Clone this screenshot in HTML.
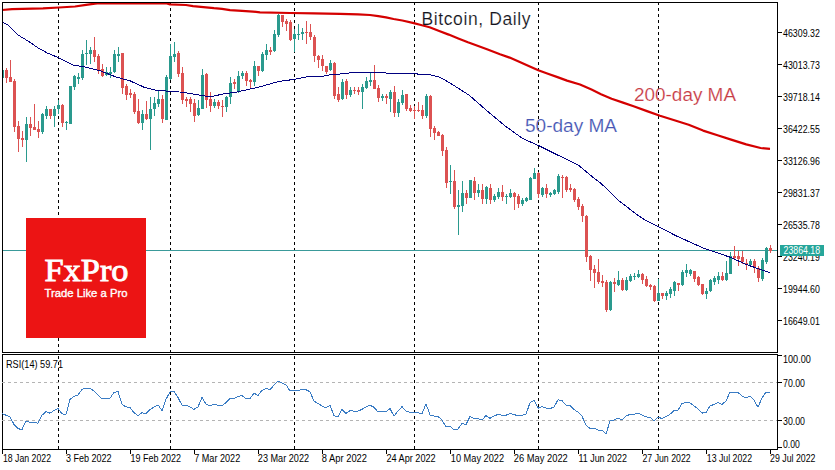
<!DOCTYPE html>
<html><head><meta charset="utf-8"><title>Bitcoin, Daily</title>
<style>
html,body{margin:0;padding:0;background:#fff;}
body{width:835px;height:470px;overflow:hidden;}
svg{display:block;}
text{font-family:"Liberation Sans",sans-serif;}
</style></head><body>
<svg width="835" height="470" viewBox="0 0 835 470">
<rect width="835" height="470" fill="#fff"/>
<g stroke="#000" stroke-width="1" stroke-dasharray="3,3" shape-rendering="crispEdges">
<line x1="58.5" y1="2" x2="58.5" y2="352"/>
<line x1="58.5" y1="356" x2="58.5" y2="449"/>
<line x1="170.5" y1="2" x2="170.5" y2="352"/>
<line x1="170.5" y1="356" x2="170.5" y2="449"/>
<line x1="294.5" y1="2" x2="294.5" y2="352"/>
<line x1="294.5" y1="356" x2="294.5" y2="449"/>
<line x1="414.5" y1="2" x2="414.5" y2="352"/>
<line x1="414.5" y1="356" x2="414.5" y2="449"/>
<line x1="538.5" y1="2" x2="538.5" y2="352"/>
<line x1="538.5" y1="356" x2="538.5" y2="449"/>
<line x1="658.5" y1="2" x2="658.5" y2="352"/>
<line x1="658.5" y1="356" x2="658.5" y2="449"/>
</g>
<rect x="3" y="250" width="774" height="1" fill="#3a9a9a"/>
<g shape-rendering="crispEdges">
<rect x="2" y="68" width="1" height="12" fill="#2a9a8e"/>
<rect x="3" y="70" width="1" height="8" fill="#2a9a8e"/>
<rect x="6" y="68" width="1" height="15" fill="#dc5252"/>
<rect x="5" y="70" width="3" height="8" fill="#dc5252"/>
<rect x="10" y="60" width="1" height="22" fill="#dc5252"/>
<rect x="9" y="77" width="3" height="5" fill="#dc5252"/>
<rect x="14" y="79" width="1" height="53" fill="#dc5252"/>
<rect x="13" y="81" width="3" height="46" fill="#dc5252"/>
<rect x="18" y="121" width="1" height="31" fill="#dc5252"/>
<rect x="17" y="126" width="3" height="13" fill="#dc5252"/>
<rect x="22" y="131" width="1" height="16" fill="#dc5252"/>
<rect x="21" y="138" width="3" height="2" fill="#dc5252"/>
<rect x="26" y="117" width="1" height="45" fill="#2a9a8e"/>
<rect x="25" y="124" width="3" height="16" fill="#2a9a8e"/>
<rect x="30" y="117" width="1" height="19" fill="#dc5252"/>
<rect x="29" y="124" width="3" height="4" fill="#dc5252"/>
<rect x="34" y="104" width="1" height="26" fill="#dc5252"/>
<rect x="33" y="127" width="3" height="3" fill="#dc5252"/>
<rect x="38" y="121" width="1" height="17" fill="#dc5252"/>
<rect x="37" y="129" width="3" height="3" fill="#dc5252"/>
<rect x="42" y="113" width="1" height="21" fill="#2a9a8e"/>
<rect x="41" y="114" width="3" height="18" fill="#2a9a8e"/>
<rect x="46" y="106" width="1" height="13" fill="#2a9a8e"/>
<rect x="45" y="109" width="3" height="7" fill="#2a9a8e"/>
<rect x="50" y="109" width="1" height="10" fill="#dc5252"/>
<rect x="49" y="109" width="3" height="7" fill="#dc5252"/>
<rect x="54" y="106" width="1" height="21" fill="#2a9a8e"/>
<rect x="53" y="109" width="3" height="7" fill="#2a9a8e"/>
<rect x="58" y="100" width="1" height="14" fill="#2a9a8e"/>
<rect x="57" y="105" width="3" height="4" fill="#2a9a8e"/>
<rect x="62" y="104" width="1" height="23" fill="#dc5252"/>
<rect x="61" y="105" width="3" height="18" fill="#dc5252"/>
<rect x="66" y="121" width="1" height="9" fill="#2a9a8e"/>
<rect x="65" y="122" width="3" height="1" fill="#2a9a8e"/>
<rect x="70" y="86" width="1" height="38" fill="#2a9a8e"/>
<rect x="69" y="86" width="3" height="38" fill="#2a9a8e"/>
<rect x="74" y="75" width="1" height="15" fill="#2a9a8e"/>
<rect x="73" y="76" width="3" height="11" fill="#2a9a8e"/>
<rect x="78" y="73" width="1" height="11" fill="#2a9a8e"/>
<rect x="77" y="77" width="3" height="2" fill="#2a9a8e"/>
<rect x="82" y="50" width="1" height="30" fill="#2a9a8e"/>
<rect x="81" y="54" width="3" height="24" fill="#2a9a8e"/>
<rect x="86" y="40" width="1" height="25" fill="#2a9a8e"/>
<rect x="85" y="53" width="3" height="1" fill="#2a9a8e"/>
<rect x="90" y="47" width="1" height="17" fill="#2a9a8e"/>
<rect x="89" y="50" width="3" height="4" fill="#2a9a8e"/>
<rect x="94" y="37" width="1" height="25" fill="#dc5252"/>
<rect x="93" y="50" width="3" height="7" fill="#dc5252"/>
<rect x="98" y="54" width="1" height="20" fill="#dc5252"/>
<rect x="97" y="56" width="3" height="14" fill="#dc5252"/>
<rect x="102" y="64" width="1" height="13" fill="#dc5252"/>
<rect x="101" y="69" width="3" height="7" fill="#dc5252"/>
<rect x="106" y="67" width="1" height="9" fill="#2a9a8e"/>
<rect x="105" y="72" width="3" height="3" fill="#2a9a8e"/>
<rect x="110" y="67" width="1" height="11" fill="#2a9a8e"/>
<rect x="109" y="72" width="3" height="2" fill="#2a9a8e"/>
<rect x="114" y="50" width="1" height="23" fill="#2a9a8e"/>
<rect x="113" y="54" width="3" height="18" fill="#2a9a8e"/>
<rect x="118" y="47" width="1" height="15" fill="#2a9a8e"/>
<rect x="117" y="54" width="3" height="2" fill="#2a9a8e"/>
<rect x="122" y="53" width="1" height="41" fill="#dc5252"/>
<rect x="121" y="53" width="3" height="35" fill="#dc5252"/>
<rect x="126" y="84" width="1" height="16" fill="#dc5252"/>
<rect x="125" y="86" width="3" height="9" fill="#dc5252"/>
<rect x="130" y="89" width="1" height="9" fill="#dc5252"/>
<rect x="129" y="93" width="3" height="2" fill="#dc5252"/>
<rect x="134" y="92" width="1" height="22" fill="#dc5252"/>
<rect x="133" y="94" width="3" height="18" fill="#dc5252"/>
<rect x="138" y="99" width="1" height="25" fill="#dc5252"/>
<rect x="137" y="111" width="3" height="12" fill="#dc5252"/>
<rect x="142" y="110" width="1" height="20" fill="#2a9a8e"/>
<rect x="141" y="114" width="3" height="9" fill="#2a9a8e"/>
<rect x="146" y="101" width="1" height="19" fill="#dc5252"/>
<rect x="145" y="114" width="3" height="5" fill="#dc5252"/>
<rect x="150" y="97" width="1" height="53" fill="#2a9a8e"/>
<rect x="149" y="109" width="3" height="10" fill="#2a9a8e"/>
<rect x="154" y="97" width="1" height="19" fill="#2a9a8e"/>
<rect x="153" y="103" width="3" height="6" fill="#2a9a8e"/>
<rect x="158" y="91" width="1" height="16" fill="#2a9a8e"/>
<rect x="157" y="99" width="3" height="5" fill="#2a9a8e"/>
<rect x="162" y="95" width="1" height="28" fill="#dc5252"/>
<rect x="161" y="99" width="3" height="20" fill="#dc5252"/>
<rect x="166" y="75" width="1" height="45" fill="#2a9a8e"/>
<rect x="165" y="77" width="3" height="43" fill="#2a9a8e"/>
<rect x="170" y="44" width="1" height="36" fill="#2a9a8e"/>
<rect x="169" y="56" width="3" height="23" fill="#2a9a8e"/>
<rect x="174" y="42" width="1" height="20" fill="#2a9a8e"/>
<rect x="173" y="54" width="3" height="3" fill="#2a9a8e"/>
<rect x="178" y="51" width="1" height="26" fill="#dc5252"/>
<rect x="177" y="53" width="3" height="21" fill="#dc5252"/>
<rect x="182" y="67" width="1" height="37" fill="#dc5252"/>
<rect x="181" y="73" width="3" height="27" fill="#dc5252"/>
<rect x="186" y="97" width="1" height="10" fill="#dc5252"/>
<rect x="185" y="99" width="3" height="2" fill="#dc5252"/>
<rect x="190" y="97" width="1" height="15" fill="#dc5252"/>
<rect x="189" y="99" width="3" height="5" fill="#dc5252"/>
<rect x="194" y="99" width="1" height="23" fill="#dc5252"/>
<rect x="193" y="103" width="3" height="13" fill="#dc5252"/>
<rect x="198" y="100" width="1" height="16" fill="#2a9a8e"/>
<rect x="197" y="108" width="3" height="7" fill="#2a9a8e"/>
<rect x="202" y="69" width="1" height="40" fill="#2a9a8e"/>
<rect x="201" y="75" width="3" height="34" fill="#2a9a8e"/>
<rect x="206" y="73" width="1" height="35" fill="#dc5252"/>
<rect x="205" y="74" width="3" height="26" fill="#dc5252"/>
<rect x="210" y="92" width="1" height="20" fill="#dc5252"/>
<rect x="209" y="99" width="3" height="7" fill="#dc5252"/>
<rect x="214" y="99" width="1" height="9" fill="#2a9a8e"/>
<rect x="213" y="102" width="3" height="4" fill="#2a9a8e"/>
<rect x="218" y="100" width="1" height="9" fill="#dc5252"/>
<rect x="217" y="102" width="3" height="4" fill="#dc5252"/>
<rect x="222" y="100" width="1" height="17" fill="#dc5252"/>
<rect x="221" y="106" width="3" height="1" fill="#dc5252"/>
<rect x="226" y="96" width="1" height="16" fill="#2a9a8e"/>
<rect x="225" y="97" width="3" height="10" fill="#2a9a8e"/>
<rect x="230" y="77" width="1" height="27" fill="#2a9a8e"/>
<rect x="229" y="83" width="3" height="14" fill="#2a9a8e"/>
<rect x="234" y="79" width="1" height="10" fill="#dc5252"/>
<rect x="233" y="82" width="3" height="2" fill="#dc5252"/>
<rect x="238" y="71" width="1" height="22" fill="#2a9a8e"/>
<rect x="237" y="76" width="3" height="15" fill="#2a9a8e"/>
<rect x="242" y="71" width="1" height="8" fill="#2a9a8e"/>
<rect x="241" y="73" width="3" height="3" fill="#2a9a8e"/>
<rect x="246" y="71" width="1" height="15" fill="#dc5252"/>
<rect x="245" y="73" width="3" height="8" fill="#dc5252"/>
<rect x="250" y="79" width="1" height="10" fill="#dc5252"/>
<rect x="249" y="80" width="3" height="2" fill="#dc5252"/>
<rect x="254" y="61" width="1" height="25" fill="#2a9a8e"/>
<rect x="253" y="66" width="3" height="16" fill="#2a9a8e"/>
<rect x="258" y="66" width="1" height="10" fill="#dc5252"/>
<rect x="257" y="66" width="3" height="5" fill="#dc5252"/>
<rect x="262" y="52" width="1" height="20" fill="#2a9a8e"/>
<rect x="261" y="54" width="3" height="17" fill="#2a9a8e"/>
<rect x="266" y="44" width="1" height="16" fill="#2a9a8e"/>
<rect x="265" y="50" width="3" height="5" fill="#2a9a8e"/>
<rect x="270" y="47" width="1" height="8" fill="#dc5252"/>
<rect x="269" y="50" width="3" height="2" fill="#dc5252"/>
<rect x="274" y="30" width="1" height="22" fill="#2a9a8e"/>
<rect x="273" y="34" width="3" height="17" fill="#2a9a8e"/>
<rect x="278" y="14" width="1" height="23" fill="#2a9a8e"/>
<rect x="277" y="15" width="3" height="20" fill="#2a9a8e"/>
<rect x="282" y="15" width="1" height="12" fill="#dc5252"/>
<rect x="281" y="15" width="3" height="7" fill="#dc5252"/>
<rect x="286" y="19" width="1" height="12" fill="#dc5252"/>
<rect x="285" y="21" width="3" height="3" fill="#dc5252"/>
<rect x="290" y="20" width="1" height="21" fill="#dc5252"/>
<rect x="289" y="22" width="3" height="18" fill="#dc5252"/>
<rect x="294" y="29" width="1" height="23" fill="#2a9a8e"/>
<rect x="293" y="34" width="3" height="5" fill="#2a9a8e"/>
<rect x="298" y="24" width="1" height="16" fill="#2a9a8e"/>
<rect x="297" y="34" width="3" height="1" fill="#2a9a8e"/>
<rect x="302" y="28" width="1" height="12" fill="#2a9a8e"/>
<rect x="301" y="32" width="3" height="2" fill="#2a9a8e"/>
<rect x="306" y="21" width="1" height="23" fill="#dc5252"/>
<rect x="305" y="32" width="3" height="1" fill="#dc5252"/>
<rect x="310" y="24" width="1" height="16" fill="#dc5252"/>
<rect x="309" y="32" width="3" height="5" fill="#dc5252"/>
<rect x="314" y="35" width="1" height="27" fill="#dc5252"/>
<rect x="313" y="37" width="3" height="19" fill="#dc5252"/>
<rect x="318" y="55" width="1" height="13" fill="#dc5252"/>
<rect x="317" y="56" width="3" height="4" fill="#dc5252"/>
<rect x="322" y="55" width="1" height="16" fill="#dc5252"/>
<rect x="321" y="59" width="3" height="7" fill="#dc5252"/>
<rect x="326" y="66" width="1" height="8" fill="#dc5252"/>
<rect x="325" y="66" width="3" height="6" fill="#dc5252"/>
<rect x="330" y="60" width="1" height="11" fill="#2a9a8e"/>
<rect x="329" y="63" width="3" height="7" fill="#2a9a8e"/>
<rect x="334" y="62" width="1" height="37" fill="#dc5252"/>
<rect x="333" y="63" width="3" height="33" fill="#dc5252"/>
<rect x="338" y="87" width="1" height="15" fill="#dc5252"/>
<rect x="337" y="94" width="3" height="6" fill="#dc5252"/>
<rect x="342" y="79" width="1" height="21" fill="#2a9a8e"/>
<rect x="341" y="82" width="3" height="17" fill="#2a9a8e"/>
<rect x="346" y="79" width="1" height="20" fill="#dc5252"/>
<rect x="345" y="81" width="3" height="14" fill="#dc5252"/>
<rect x="350" y="87" width="1" height="10" fill="#2a9a8e"/>
<rect x="349" y="90" width="3" height="5" fill="#2a9a8e"/>
<rect x="354" y="87" width="1" height="7" fill="#dc5252"/>
<rect x="353" y="90" width="3" height="1" fill="#dc5252"/>
<rect x="358" y="87" width="1" height="8" fill="#dc5252"/>
<rect x="357" y="90" width="3" height="2" fill="#dc5252"/>
<rect x="362" y="84" width="1" height="25" fill="#2a9a8e"/>
<rect x="361" y="87" width="3" height="5" fill="#2a9a8e"/>
<rect x="366" y="77" width="1" height="12" fill="#2a9a8e"/>
<rect x="365" y="81" width="3" height="7" fill="#2a9a8e"/>
<rect x="370" y="73" width="1" height="13" fill="#2a9a8e"/>
<rect x="369" y="80" width="3" height="2" fill="#2a9a8e"/>
<rect x="374" y="65" width="1" height="24" fill="#dc5252"/>
<rect x="373" y="80" width="3" height="9" fill="#dc5252"/>
<rect x="378" y="85" width="1" height="17" fill="#dc5252"/>
<rect x="377" y="88" width="3" height="10" fill="#dc5252"/>
<rect x="382" y="94" width="1" height="7" fill="#2a9a8e"/>
<rect x="381" y="96" width="3" height="2" fill="#2a9a8e"/>
<rect x="386" y="94" width="1" height="10" fill="#dc5252"/>
<rect x="385" y="96" width="3" height="2" fill="#dc5252"/>
<rect x="390" y="90" width="1" height="22" fill="#2a9a8e"/>
<rect x="389" y="92" width="3" height="7" fill="#2a9a8e"/>
<rect x="394" y="86" width="1" height="31" fill="#dc5252"/>
<rect x="393" y="92" width="3" height="21" fill="#dc5252"/>
<rect x="398" y="99" width="1" height="18" fill="#2a9a8e"/>
<rect x="397" y="102" width="3" height="11" fill="#2a9a8e"/>
<rect x="402" y="90" width="1" height="15" fill="#2a9a8e"/>
<rect x="401" y="95" width="3" height="8" fill="#2a9a8e"/>
<rect x="406" y="94" width="1" height="17" fill="#dc5252"/>
<rect x="405" y="94" width="3" height="15" fill="#dc5252"/>
<rect x="410" y="105" width="1" height="7" fill="#dc5252"/>
<rect x="409" y="108" width="3" height="3" fill="#dc5252"/>
<rect x="414" y="106" width="1" height="13" fill="#dc5252"/>
<rect x="413" y="110" width="3" height="1" fill="#dc5252"/>
<rect x="418" y="102" width="1" height="10" fill="#dc5252"/>
<rect x="417" y="110" width="3" height="1" fill="#dc5252"/>
<rect x="422" y="105" width="1" height="14" fill="#dc5252"/>
<rect x="421" y="110" width="3" height="6" fill="#dc5252"/>
<rect x="426" y="94" width="1" height="24" fill="#2a9a8e"/>
<rect x="425" y="96" width="3" height="20" fill="#2a9a8e"/>
<rect x="430" y="95" width="1" height="42" fill="#dc5252"/>
<rect x="429" y="96" width="3" height="33" fill="#dc5252"/>
<rect x="434" y="126" width="1" height="14" fill="#dc5252"/>
<rect x="433" y="128" width="3" height="5" fill="#dc5252"/>
<rect x="438" y="131" width="1" height="5" fill="#dc5252"/>
<rect x="437" y="132" width="3" height="4" fill="#dc5252"/>
<rect x="442" y="134" width="1" height="22" fill="#dc5252"/>
<rect x="441" y="135" width="3" height="16" fill="#dc5252"/>
<rect x="446" y="147" width="1" height="41" fill="#dc5252"/>
<rect x="445" y="150" width="3" height="33" fill="#dc5252"/>
<rect x="450" y="165" width="1" height="29" fill="#2a9a8e"/>
<rect x="449" y="181" width="3" height="1" fill="#2a9a8e"/>
<rect x="454" y="170" width="1" height="39" fill="#dc5252"/>
<rect x="453" y="181" width="3" height="26" fill="#dc5252"/>
<rect x="458" y="190" width="1" height="45" fill="#2a9a8e"/>
<rect x="457" y="205" width="3" height="2" fill="#2a9a8e"/>
<rect x="462" y="181" width="1" height="31" fill="#2a9a8e"/>
<rect x="461" y="193" width="3" height="13" fill="#2a9a8e"/>
<rect x="466" y="190" width="1" height="14" fill="#dc5252"/>
<rect x="465" y="193" width="3" height="5" fill="#dc5252"/>
<rect x="470" y="180" width="1" height="18" fill="#2a9a8e"/>
<rect x="469" y="180" width="3" height="18" fill="#2a9a8e"/>
<rect x="474" y="177" width="1" height="23" fill="#dc5252"/>
<rect x="473" y="181" width="3" height="12" fill="#dc5252"/>
<rect x="478" y="184" width="1" height="13" fill="#2a9a8e"/>
<rect x="477" y="190" width="3" height="3" fill="#2a9a8e"/>
<rect x="482" y="184" width="1" height="20" fill="#dc5252"/>
<rect x="481" y="190" width="3" height="9" fill="#dc5252"/>
<rect x="486" y="186" width="1" height="18" fill="#2a9a8e"/>
<rect x="485" y="187" width="3" height="12" fill="#2a9a8e"/>
<rect x="490" y="184" width="1" height="20" fill="#dc5252"/>
<rect x="489" y="188" width="3" height="12" fill="#dc5252"/>
<rect x="494" y="194" width="1" height="8" fill="#2a9a8e"/>
<rect x="493" y="196" width="3" height="4" fill="#2a9a8e"/>
<rect x="498" y="188" width="1" height="11" fill="#2a9a8e"/>
<rect x="497" y="192" width="3" height="5" fill="#2a9a8e"/>
<rect x="502" y="185" width="1" height="16" fill="#dc5252"/>
<rect x="501" y="192" width="3" height="5" fill="#dc5252"/>
<rect x="506" y="194" width="1" height="10" fill="#2a9a8e"/>
<rect x="505" y="196" width="3" height="1" fill="#2a9a8e"/>
<rect x="510" y="189" width="1" height="9" fill="#2a9a8e"/>
<rect x="509" y="193" width="3" height="4" fill="#2a9a8e"/>
<rect x="514" y="192" width="1" height="18" fill="#dc5252"/>
<rect x="513" y="193" width="3" height="4" fill="#dc5252"/>
<rect x="518" y="194" width="1" height="14" fill="#dc5252"/>
<rect x="517" y="196" width="3" height="8" fill="#dc5252"/>
<rect x="522" y="198" width="1" height="8" fill="#2a9a8e"/>
<rect x="521" y="200" width="3" height="4" fill="#2a9a8e"/>
<rect x="526" y="197" width="1" height="5" fill="#2a9a8e"/>
<rect x="525" y="198" width="3" height="3" fill="#2a9a8e"/>
<rect x="530" y="177" width="1" height="23" fill="#2a9a8e"/>
<rect x="529" y="178" width="3" height="22" fill="#2a9a8e"/>
<rect x="534" y="168" width="1" height="11" fill="#2a9a8e"/>
<rect x="533" y="173" width="3" height="6" fill="#2a9a8e"/>
<rect x="538" y="172" width="1" height="26" fill="#dc5252"/>
<rect x="537" y="173" width="3" height="21" fill="#dc5252"/>
<rect x="542" y="187" width="1" height="10" fill="#2a9a8e"/>
<rect x="541" y="188" width="3" height="7" fill="#2a9a8e"/>
<rect x="546" y="184" width="1" height="14" fill="#dc5252"/>
<rect x="545" y="188" width="3" height="6" fill="#dc5252"/>
<rect x="550" y="192" width="1" height="5" fill="#2a9a8e"/>
<rect x="549" y="193" width="3" height="2" fill="#2a9a8e"/>
<rect x="554" y="189" width="1" height="6" fill="#2a9a8e"/>
<rect x="553" y="190" width="3" height="4" fill="#2a9a8e"/>
<rect x="558" y="174" width="1" height="20" fill="#2a9a8e"/>
<rect x="557" y="176" width="3" height="16" fill="#2a9a8e"/>
<rect x="562" y="175" width="1" height="23" fill="#dc5252"/>
<rect x="561" y="177" width="3" height="1" fill="#dc5252"/>
<rect x="566" y="176" width="1" height="16" fill="#dc5252"/>
<rect x="565" y="177" width="3" height="13" fill="#dc5252"/>
<rect x="570" y="184" width="1" height="8" fill="#dc5252"/>
<rect x="569" y="188" width="3" height="2" fill="#dc5252"/>
<rect x="574" y="188" width="1" height="14" fill="#dc5252"/>
<rect x="573" y="189" width="3" height="11" fill="#dc5252"/>
<rect x="578" y="197" width="1" height="13" fill="#dc5252"/>
<rect x="577" y="199" width="3" height="8" fill="#dc5252"/>
<rect x="582" y="204" width="1" height="18" fill="#dc5252"/>
<rect x="581" y="206" width="3" height="10" fill="#dc5252"/>
<rect x="586" y="215" width="1" height="47" fill="#dc5252"/>
<rect x="585" y="216" width="3" height="41" fill="#dc5252"/>
<rect x="590" y="255" width="1" height="26" fill="#dc5252"/>
<rect x="589" y="256" width="3" height="14" fill="#dc5252"/>
<rect x="594" y="265" width="1" height="23" fill="#dc5252"/>
<rect x="593" y="269" width="3" height="4" fill="#dc5252"/>
<rect x="598" y="259" width="1" height="25" fill="#dc5252"/>
<rect x="597" y="272" width="3" height="10" fill="#dc5252"/>
<rect x="602" y="275" width="1" height="12" fill="#dc5252"/>
<rect x="601" y="281" width="3" height="2" fill="#dc5252"/>
<rect x="606" y="280" width="1" height="32" fill="#dc5252"/>
<rect x="605" y="282" width="3" height="28" fill="#dc5252"/>
<rect x="610" y="281" width="1" height="30" fill="#2a9a8e"/>
<rect x="609" y="282" width="3" height="28" fill="#2a9a8e"/>
<rect x="614" y="278" width="1" height="14" fill="#dc5252"/>
<rect x="613" y="282" width="3" height="2" fill="#dc5252"/>
<rect x="618" y="271" width="1" height="15" fill="#2a9a8e"/>
<rect x="617" y="280" width="3" height="5" fill="#2a9a8e"/>
<rect x="622" y="278" width="1" height="13" fill="#dc5252"/>
<rect x="621" y="280" width="3" height="10" fill="#dc5252"/>
<rect x="626" y="277" width="1" height="14" fill="#2a9a8e"/>
<rect x="625" y="280" width="3" height="10" fill="#2a9a8e"/>
<rect x="630" y="274" width="1" height="8" fill="#2a9a8e"/>
<rect x="629" y="276" width="3" height="5" fill="#2a9a8e"/>
<rect x="634" y="273" width="1" height="7" fill="#2a9a8e"/>
<rect x="633" y="276" width="3" height="1" fill="#2a9a8e"/>
<rect x="638" y="270" width="1" height="8" fill="#2a9a8e"/>
<rect x="637" y="274" width="3" height="3" fill="#2a9a8e"/>
<rect x="642" y="273" width="1" height="11" fill="#dc5252"/>
<rect x="641" y="274" width="3" height="6" fill="#dc5252"/>
<rect x="646" y="276" width="1" height="11" fill="#dc5252"/>
<rect x="645" y="279" width="3" height="7" fill="#dc5252"/>
<rect x="650" y="284" width="1" height="6" fill="#dc5252"/>
<rect x="649" y="285" width="3" height="2" fill="#dc5252"/>
<rect x="654" y="285" width="1" height="17" fill="#dc5252"/>
<rect x="653" y="286" width="3" height="15" fill="#dc5252"/>
<rect x="658" y="279" width="1" height="22" fill="#2a9a8e"/>
<rect x="657" y="293" width="3" height="8" fill="#2a9a8e"/>
<rect x="662" y="293" width="1" height="6" fill="#dc5252"/>
<rect x="661" y="293" width="3" height="3" fill="#dc5252"/>
<rect x="666" y="291" width="1" height="9" fill="#2a9a8e"/>
<rect x="665" y="293" width="3" height="3" fill="#2a9a8e"/>
<rect x="670" y="287" width="1" height="11" fill="#2a9a8e"/>
<rect x="669" y="289" width="3" height="5" fill="#2a9a8e"/>
<rect x="674" y="281" width="1" height="15" fill="#2a9a8e"/>
<rect x="673" y="282" width="3" height="9" fill="#2a9a8e"/>
<rect x="678" y="283" width="1" height="8" fill="#dc5252"/>
<rect x="677" y="283" width="3" height="2" fill="#dc5252"/>
<rect x="682" y="270" width="1" height="16" fill="#2a9a8e"/>
<rect x="681" y="272" width="3" height="13" fill="#2a9a8e"/>
<rect x="686" y="264" width="1" height="13" fill="#2a9a8e"/>
<rect x="685" y="270" width="3" height="3" fill="#2a9a8e"/>
<rect x="690" y="269" width="1" height="7" fill="#2a9a8e"/>
<rect x="689" y="270" width="3" height="4" fill="#2a9a8e"/>
<rect x="694" y="271" width="1" height="11" fill="#dc5252"/>
<rect x="693" y="271" width="3" height="8" fill="#dc5252"/>
<rect x="698" y="276" width="1" height="10" fill="#dc5252"/>
<rect x="697" y="277" width="3" height="8" fill="#dc5252"/>
<rect x="702" y="284" width="1" height="11" fill="#dc5252"/>
<rect x="701" y="284" width="3" height="10" fill="#dc5252"/>
<rect x="706" y="288" width="1" height="11" fill="#2a9a8e"/>
<rect x="705" y="291" width="3" height="3" fill="#2a9a8e"/>
<rect x="710" y="279" width="1" height="13" fill="#2a9a8e"/>
<rect x="709" y="280" width="3" height="11" fill="#2a9a8e"/>
<rect x="714" y="276" width="1" height="9" fill="#2a9a8e"/>
<rect x="713" y="278" width="3" height="4" fill="#2a9a8e"/>
<rect x="718" y="272" width="1" height="12" fill="#2a9a8e"/>
<rect x="717" y="276" width="3" height="4" fill="#2a9a8e"/>
<rect x="722" y="272" width="1" height="9" fill="#dc5252"/>
<rect x="721" y="276" width="3" height="4" fill="#dc5252"/>
<rect x="726" y="261" width="1" height="20" fill="#2a9a8e"/>
<rect x="725" y="273" width="3" height="7" fill="#2a9a8e"/>
<rect x="730" y="252" width="1" height="22" fill="#2a9a8e"/>
<rect x="729" y="256" width="3" height="18" fill="#2a9a8e"/>
<rect x="734" y="246" width="1" height="13" fill="#dc5252"/>
<rect x="733" y="256" width="3" height="2" fill="#dc5252"/>
<rect x="738" y="251" width="1" height="15" fill="#dc5252"/>
<rect x="737" y="256" width="3" height="3" fill="#dc5252"/>
<rect x="742" y="251" width="1" height="13" fill="#dc5252"/>
<rect x="741" y="257" width="3" height="5" fill="#dc5252"/>
<rect x="746" y="259" width="1" height="11" fill="#dc5252"/>
<rect x="745" y="263" width="3" height="2" fill="#dc5252"/>
<rect x="750" y="259" width="1" height="7" fill="#2a9a8e"/>
<rect x="749" y="261" width="3" height="4" fill="#2a9a8e"/>
<rect x="754" y="259" width="1" height="14" fill="#dc5252"/>
<rect x="753" y="261" width="3" height="6" fill="#dc5252"/>
<rect x="758" y="266" width="1" height="16" fill="#dc5252"/>
<rect x="757" y="268" width="3" height="10" fill="#dc5252"/>
<rect x="762" y="258" width="1" height="23" fill="#2a9a8e"/>
<rect x="761" y="260" width="3" height="19" fill="#2a9a8e"/>
<rect x="766" y="247" width="1" height="17" fill="#2a9a8e"/>
<rect x="765" y="248" width="3" height="14" fill="#2a9a8e"/>
<rect x="770" y="245" width="1" height="8" fill="#dc5252"/>
<rect x="769" y="248" width="3" height="3" fill="#dc5252"/>
</g>
<polyline points="2.5,22.0 8.6,25.5 18.2,35.1 27.8,40.9 38.3,48.0 47.9,53.3 58.4,57.6 73.3,65.2 83.4,66.6 100.6,70.9 116.0,77.0 130.4,81.0 144.7,87.5 156.2,90.3 166.3,91.0 182.1,92.2 196.5,94.6 205.0,96.0 213.7,96.0 223.8,93.9 236.0,92.2 246.4,89.9 260.7,86.6 278.0,81.6 293.8,79.4 308.2,76.5 318.2,77.0 332.6,74.4 346.0,73.7 353.2,72.2 371.9,72.6 409.2,73.7 427.9,74.4 439.4,77.0 450.0,83.0 469.2,95.2 486.4,110.3 504.5,125.5 522.7,138.6 538.9,145.7 555.0,153.7 575.3,163.8 579.0,165.7 592.0,176.5 600.6,183.0 620.0,201.7 637.6,215.0 646.2,220.7 658.4,226.5 674.4,235.0 703.0,248.0 730.4,257.3 746.2,264.5 770.0,272.7" fill="none" stroke="#000080" stroke-width="1" shape-rendering="crispEdges"/>
<polyline points="2.0,10.0 12.0,9.2 43.0,8.4 59.0,7.5 75.0,6.5 86.0,4.8 95.0,3.6 100.0,3.2 166.0,3.3 170.0,4.4 186.0,5.0 193.0,6.2 206.0,7.3 214.0,8.2 222.0,8.9 230.0,10.1 242.0,10.8 253.0,11.6 260.0,12.4 290.0,13.0 314.0,13.4 340.0,13.8 358.0,14.3 370.0,15.0 378.3,16.2 386.0,17.4 393.6,19.0 402.3,20.5 413.8,23.1 420.0,24.7 429.6,27.2 439.2,31.0 448.7,34.6 458.3,38.5 467.9,42.3 477.5,45.7 487.0,49.2 500.0,54.2 509.6,57.6 519.2,61.8 528.7,66.1 538.3,70.2 547.9,73.7 557.5,77.1 567.0,80.6 580.0,84.5 591.5,89.6 601.0,94.2 611.6,98.7 623.0,102.6 633.6,106.3 647.0,111.1 660.0,115.7 674.4,120.3 688.7,124.8 703.1,130.6 717.5,135.2 731.9,139.9 746.2,144.4 760.6,148.0 770.0,148.8" fill="none" stroke="#d40000" stroke-width="2.2" stroke-linejoin="round"/>
<rect x="26" y="218" width="120" height="120" fill="#ec1414"/>
<text x="44.5" y="280.5" font-size="32" fill="#fff" stroke="#fff" stroke-width="0.9" textLength="84" lengthAdjust="spacingAndGlyphs" style="font-family:'Liberation Serif',serif">FxPro</text>
<text x="44.5" y="297" font-size="11.5" fill="#fff" stroke="#fff" stroke-width="0.35" textLength="83" lengthAdjust="spacingAndGlyphs">Trade Like a Pro</text>
<text x="421.5" y="25" font-size="17.5" fill="#141420" stroke="#fff" stroke-width="0.15" textLength="109" lengthAdjust="spacing">Bitcoin, Daily</text>
<text x="634" y="101" font-size="17.5" fill="#c83c46" stroke="#fff" stroke-width="0.15" textLength="102" lengthAdjust="spacingAndGlyphs">200-day MA</text>
<text x="525" y="132" font-size="17.5" fill="#4656b4" stroke="#fff" stroke-width="0.15" textLength="92" lengthAdjust="spacingAndGlyphs">50-day MA</text>
<g fill="none" stroke="#000" stroke-width="1" shape-rendering="crispEdges">
<rect x="2.5" y="2.5" width="775" height="350"/>
<rect x="2.5" y="354.5" width="775" height="95"/>
</g>
<g fill="#000" shape-rendering="crispEdges">
<rect x="778" y="32" width="4" height="1"/>
<rect x="778" y="64" width="4" height="1"/>
<rect x="778" y="96" width="4" height="1"/>
<rect x="778" y="128" width="4" height="1"/>
<rect x="778" y="160" width="4" height="1"/>
<rect x="778" y="192" width="4" height="1"/>
<rect x="778" y="224" width="4" height="1"/>
<rect x="778" y="256" width="4" height="1"/>
<rect x="778" y="288" width="4" height="1"/>
<rect x="778" y="320" width="4" height="1"/>
</g>
<text x="783" y="37" font-size="10.4" fill="#000" textLength="36.8" lengthAdjust="spacingAndGlyphs" >46309.32</text>
<text x="783" y="69" font-size="10.4" fill="#000" textLength="36.8" lengthAdjust="spacingAndGlyphs" >43013.73</text>
<text x="783" y="101" font-size="10.4" fill="#000" textLength="36.8" lengthAdjust="spacingAndGlyphs" >39718.14</text>
<text x="783" y="133" font-size="10.4" fill="#000" textLength="36.8" lengthAdjust="spacingAndGlyphs" >36422.55</text>
<text x="783" y="165" font-size="10.4" fill="#000" textLength="36.8" lengthAdjust="spacingAndGlyphs" >33126.96</text>
<text x="783" y="197" font-size="10.4" fill="#000" textLength="36.8" lengthAdjust="spacingAndGlyphs" >29831.37</text>
<text x="783" y="229" font-size="10.4" fill="#000" textLength="36.8" lengthAdjust="spacingAndGlyphs" >26535.78</text>
<text x="783" y="261" font-size="10.4" fill="#000" textLength="36.8" lengthAdjust="spacingAndGlyphs" >23240.19</text>
<text x="783" y="293" font-size="10.4" fill="#000" textLength="36.8" lengthAdjust="spacingAndGlyphs" >19944.60</text>
<text x="783" y="325" font-size="10.4" fill="#000" textLength="36.8" lengthAdjust="spacingAndGlyphs" >16649.01</text>
<rect x="780" y="245" width="44" height="11" fill="#26a69a"/>
<text x="783.5" y="254" font-size="10.4" fill="#fff" textLength="36.6" lengthAdjust="spacingAndGlyphs" >23864.18</text>
<g stroke="#b4b4b4" stroke-width="1" stroke-dasharray="3,3" shape-rendering="crispEdges">
<line x1="2" y1="382.5" x2="777" y2="382.5"/>
<line x1="2" y1="420.5" x2="777" y2="420.5"/>
</g>
<polyline points="2.0,413.6 6.0,415.2 10.0,416.9 14.0,424.5 18.0,428.7 22.0,429.5 26.0,421.1 30.0,422.3 34.0,422.5 38.0,423.1 42.0,415.2 46.0,411.6 50.0,413.2 54.0,410.5 58.0,408.5 62.0,413.9 66.0,414.4 70.0,399.3 74.0,396.5 78.0,395.1 82.0,389.3 86.0,388.1 90.0,388.4 94.0,390.9 98.0,395.1 102.0,398.8 106.0,398.1 110.0,398.1 114.0,392.6 118.0,391.4 122.0,404.3 126.0,406.9 130.0,407.4 134.0,412.7 138.0,415.8 142.0,412.7 146.0,413.6 150.0,409.4 154.0,407.2 158.0,404.8 162.0,410.5 166.0,399.3 170.0,391.8 174.0,391.3 178.0,397.6 182.0,405.2 186.0,405.2 190.0,406.9 194.0,409.4 198.0,406.9 202.0,397.6 206.0,404.3 210.0,405.5 214.0,404.3 218.0,405.2 222.0,405.5 226.0,402.7 230.0,398.5 234.0,398.5 238.0,396.5 242.0,395.5 246.0,398.5 250.0,398.5 254.0,393.1 258.0,395.5 262.0,390.4 266.0,388.4 270.0,389.8 274.0,385.0 278.0,380.9 282.0,383.1 286.0,384.8 290.0,391.0 294.0,390.5 298.0,390.5 302.0,389.3 306.0,389.8 310.0,391.8 314.0,401.0 318.0,403.5 322.0,406.0 326.0,407.7 330.0,405.5 334.0,415.6 338.0,416.9 342.0,409.4 346.0,413.3 350.0,410.6 354.0,411.1 358.0,411.1 362.0,409.4 366.0,406.9 370.0,405.2 374.0,407.2 378.0,411.9 382.0,411.1 386.0,411.9 390.0,408.6 394.0,416.1 398.0,411.1 402.0,406.6 406.0,411.1 410.0,412.2 414.0,412.2 418.0,412.7 422.0,413.9 426.0,403.8 430.0,414.9 434.0,416.1 438.0,416.6 442.0,419.9 446.0,427.0 450.0,426.1 454.0,430.0 458.0,429.0 462.0,423.6 466.0,424.5 470.0,416.6 474.0,418.3 478.0,418.6 482.0,419.9 486.0,415.6 490.0,418.3 494.0,416.1 498.0,414.4 502.0,415.2 506.0,415.2 510.0,413.6 514.0,414.4 518.0,416.1 522.0,415.2 526.0,414.4 530.0,402.7 534.0,400.2 538.0,408.2 542.0,406.5 546.0,408.0 550.0,408.5 554.0,407.2 558.0,399.8 562.0,400.5 566.0,405.2 570.0,405.5 574.0,409.4 578.0,412.2 582.0,416.1 586.0,425.3 590.0,428.3 594.0,428.3 598.0,430.0 602.0,430.3 606.0,434.0 610.0,421.1 614.0,419.9 618.0,418.3 622.0,419.9 626.0,416.1 630.0,414.4 634.0,414.4 638.0,413.2 642.0,414.9 646.0,416.9 650.0,417.3 654.0,421.1 658.0,416.9 662.0,418.6 666.0,416.7 670.0,414.2 674.0,410.6 678.0,410.2 682.0,403.6 686.0,402.3 690.0,403.0 694.0,405.9 698.0,408.8 702.0,413.1 706.0,412.4 710.0,405.9 714.0,404.5 718.0,402.3 722.0,404.5 726.0,400.9 730.0,392.0 734.0,392.5 738.0,392.5 742.0,395.8 746.0,398.0 750.0,396.3 754.0,400.2 758.0,407.3 762.0,398.0 766.0,392.0 770.0,392.5" fill="none" stroke="#3a7cc4" stroke-width="1" shape-rendering="crispEdges"/>
<text x="6" y="367.5" font-size="10.4" fill="#000" textLength="57" lengthAdjust="spacingAndGlyphs" >RSI(14) 59.71</text>
<g fill="#000" shape-rendering="crispEdges">
<rect x="778" y="355" width="4" height="1"/>
<rect x="778" y="382" width="4" height="1"/>
<rect x="778" y="420" width="4" height="1"/>
<rect x="778" y="447" width="4" height="1"/>
</g>
<text x="783" y="363" font-size="10.4" fill="#000" textLength="27.8" lengthAdjust="spacingAndGlyphs" >100.00</text>
<text x="783" y="386.5" font-size="10.4" fill="#000" textLength="22" lengthAdjust="spacingAndGlyphs" >70.00</text>
<text x="783" y="424.8" font-size="10.4" fill="#000" textLength="22" lengthAdjust="spacingAndGlyphs" >30.00</text>
<text x="783" y="448" font-size="10.4" fill="#000" textLength="16.8" lengthAdjust="spacingAndGlyphs" >0.00</text>
<g fill="#000" shape-rendering="crispEdges">
<rect x="2" y="450" width="1" height="4"/>
<rect x="66" y="450" width="1" height="4"/>
<rect x="130" y="450" width="1" height="4"/>
<rect x="194" y="450" width="1" height="4"/>
<rect x="258" y="450" width="1" height="4"/>
<rect x="322" y="450" width="1" height="4"/>
<rect x="386" y="450" width="1" height="4"/>
<rect x="450" y="450" width="1" height="4"/>
<rect x="514" y="450" width="1" height="4"/>
<rect x="578" y="450" width="1" height="4"/>
<rect x="642" y="450" width="1" height="4"/>
<rect x="706" y="450" width="1" height="4"/>
<rect x="770" y="450" width="1" height="4"/>
</g>
<text x="3" y="462.4" font-size="10.4" fill="#000" textLength="48" lengthAdjust="spacingAndGlyphs" >18 Jan 2022</text>
<text x="65.9" y="462.4" font-size="10.4" fill="#000" textLength="45.6" lengthAdjust="spacingAndGlyphs" >3 Feb 2022</text>
<text x="130.6" y="462.4" font-size="10.4" fill="#000" textLength="50.3" lengthAdjust="spacingAndGlyphs" >19 Feb 2022</text>
<text x="194.2" y="462.4" font-size="10.4" fill="#000" textLength="46" lengthAdjust="spacingAndGlyphs" >7 Mar 2022</text>
<text x="257.8" y="462.4" font-size="10.4" fill="#000" textLength="51.3" lengthAdjust="spacingAndGlyphs" >23 Mar 2022</text>
<text x="321.8" y="462.4" font-size="10.4" fill="#000" textLength="45.2" lengthAdjust="spacingAndGlyphs" >8 Apr 2022</text>
<text x="386.4" y="462.4" font-size="10.4" fill="#000" textLength="49.3" lengthAdjust="spacingAndGlyphs" >24 Apr 2022</text>
<text x="450.8" y="462.4" font-size="10.4" fill="#000" textLength="53.3" lengthAdjust="spacingAndGlyphs" >10 May 2022</text>
<text x="513.8" y="462.4" font-size="10.4" fill="#000" textLength="54" lengthAdjust="spacingAndGlyphs" >26 May 2022</text>
<text x="578.4" y="462.4" font-size="10.4" fill="#000" textLength="48.6" lengthAdjust="spacingAndGlyphs" >11 Jun 2022</text>
<text x="642.5" y="462.4" font-size="10.4" fill="#000" textLength="48.1" lengthAdjust="spacingAndGlyphs" >27 Jun 2022</text>
<text x="706.8" y="462.4" font-size="10.4" fill="#000" textLength="45.2" lengthAdjust="spacingAndGlyphs" >13 Jul 2022</text>
<text x="770" y="462.4" font-size="10.4" fill="#000" textLength="45.5" lengthAdjust="spacingAndGlyphs" >29 Jul 2022</text>
</svg></body></html>
